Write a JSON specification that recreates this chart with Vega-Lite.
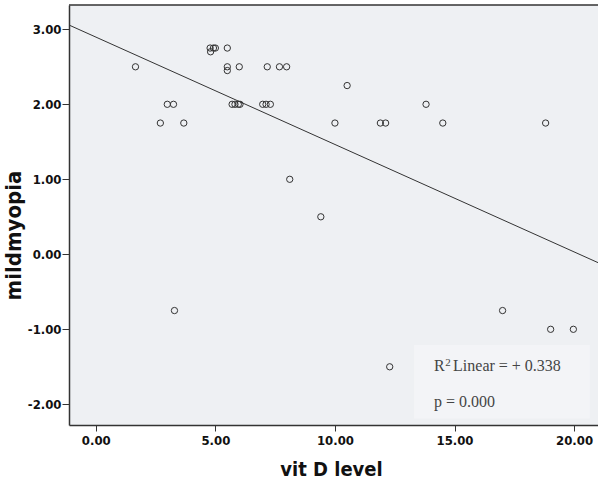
{
  "$schema": "https://vega.github.io/schema/vega-lite/v6.json",
  "width": 529,
  "height": 420,
  "autosize": "none",
  "padding": {"left": 69, "top": 5, "right": 0, "bottom": 54},
  "background": "white",
  "config": {
    "view": {"stroke": null, "fill": "#eef0f3"},
    "axis": {
      "grid": false,
      "labelFont": "Liberation Sans Narrow, DejaVu Sans Condensed, sans-serif",
      "labelFontWeight": "bold",
      "labelFontSize": 13,
      "labelColor": "#111",
      "tickColor": "#333",
      "domainColor": "#333",
      "domainWidth": 1.5,
      "titleFont": "Liberation Sans Narrow, DejaVu Sans Condensed, sans-serif",
      "titleFontWeight": "bold",
      "titleColor": "#111"
    }
  },
  "datasets": {
    "points": [
      {"x": 1.66, "y": 2.5}, {"x": 2.99, "y": 2.0}, {"x": 3.25, "y": 2.0},
      {"x": 2.70, "y": 1.75}, {"x": 3.68, "y": 1.75}, {"x": 3.29, "y": -0.75},
      {"x": 4.78, "y": 2.75}, {"x": 4.80, "y": 2.70}, {"x": 4.92, "y": 2.75},
      {"x": 5.00, "y": 2.75}, {"x": 5.50, "y": 2.75}, {"x": 5.50, "y": 2.5},
      {"x": 5.50, "y": 2.45}, {"x": 6.00, "y": 2.5}, {"x": 5.70, "y": 2.0},
      {"x": 5.82, "y": 2.0}, {"x": 5.96, "y": 2.0}, {"x": 6.03, "y": 2.0},
      {"x": 7.17, "y": 2.5}, {"x": 7.68, "y": 2.5}, {"x": 7.98, "y": 2.5},
      {"x": 6.98, "y": 2.0}, {"x": 7.12, "y": 2.0}, {"x": 7.30, "y": 2.0},
      {"x": 8.11, "y": 1.0}, {"x": 10.51, "y": 2.25}, {"x": 10.0, "y": 1.75},
      {"x": 11.90, "y": 1.75}, {"x": 12.12, "y": 1.75}, {"x": 13.81, "y": 2.0},
      {"x": 14.51, "y": 1.75}, {"x": 18.81, "y": 1.75}, {"x": 9.41, "y": 0.5},
      {"x": 17.01, "y": -0.75}, {"x": 19.02, "y": -1.0}, {"x": 19.97, "y": -1.0},
      {"x": 12.29, "y": -1.5}
    ],
    "fit": [{"x": -1.12, "y": 3.057}, {"x": 21.0, "y": -0.111}],
    "box": [{"x": 13.31, "x2": 20.66, "y": -1.21, "y2": -2.19}],
    "labels": [
      {"x": 14.14, "y": -1.55, "label": "R"},
      {"x": 14.94, "y": -1.55, "label": "Linear = + 0.338"},
      {"x": 14.14, "y": -2.03, "label": "p = 0.000"}
    ],
    "sup": [{"x": 14.61, "y": -1.49, "label": "2"}],
    "top": [{"y": 3.324}]
  },
  "encoding": {
    "x": {
      "field": "x", "type": "quantitative",
      "scale": {"domain": [-1.12, 21.0], "nice": false, "zero": false},
      "axis": {
        "values": [0, 5, 10, 15, 20], "format": ".2f",
        "tickSize": 6, "labelPadding": 3,
        "title": "vit D level", "titleFontSize": 20,
        "titleX": 262, "titleY": 50, "titleAlign": "center", "titleBaseline": "alphabetic"
      }
    },
    "y": {
      "field": "y", "type": "quantitative",
      "scale": {"domain": [-2.276, 3.324], "nice": false, "zero": false},
      "axis": {
        "values": [-2, -1, 0, 1, 2, 3],
        "labelExpr": "replace(format(datum.value, '.2f'), '\u2212', '-')",
        "tickSize": 7, "labelPadding": 1,
        "title": "mildmyopia", "titleFontSize": 22,
        "titleAngle": -90, "titleX": -49, "titleY": 230,
        "titleAlign": "center", "titleBaseline": "alphabetic"
      }
    }
  },
  "layer": [
    {
      "data": {"name": "box"},
      "mark": {"type": "rect", "fill": "#f3f4f7", "stroke": null},
      "encoding": {"x2": {"field": "x2"}, "y2": {"field": "y2"}}
    },
    {
      "data": {"name": "top"},
      "mark": {"type": "rule", "color": "#333", "strokeWidth": 1.5},
      "encoding": {"x": null}
    },
    {
      "data": {"name": "fit"},
      "mark": {"type": "line", "color": "#333", "strokeWidth": 1, "clip": true},
      "encoding": {}
    },
    {
      "data": {"name": "points"},
      "mark": {"type": "point", "shape": "circle", "filled": false, "color": "#333", "strokeWidth": 1, "size": 40, "opacity": 1},
      "encoding": {}
    },
    {
      "data": {"name": "labels"},
      "mark": {"type": "text", "font": "Liberation Serif", "fontSize": 16, "color": "#444", "align": "left", "baseline": "alphabetic"},
      "encoding": {"text": {"field": "label"}}
    },
    {
      "data": {"name": "sup"},
      "mark": {"type": "text", "font": "Liberation Serif", "fontSize": 11, "color": "#444", "align": "left", "baseline": "alphabetic"},
      "encoding": {"text": {"field": "label"}}
    }
  ]
}
